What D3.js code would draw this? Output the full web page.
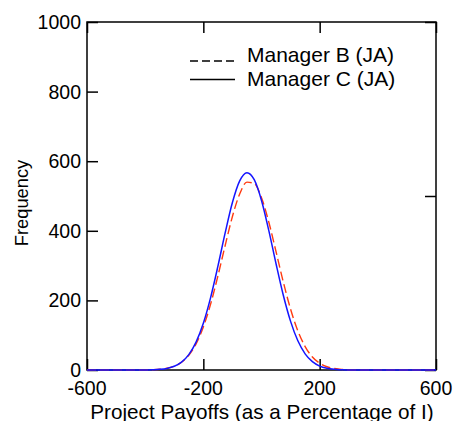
<!DOCTYPE html>
<html>
<head>
<meta charset="utf-8">
<script src="https://cdn.jsdelivr.net/npm/d3@7"></script>
<style>
  html, body { margin: 0; padding: 0; background: #fff; }
  svg { display: block; }
  text { font-family: "Liberation Sans", Arial, Helvetica, sans-serif; fill: #000; }
</style>
</head>
<body>
<svg id="chart" width="454" height="421"></svg>
<script>
// ---- data ----
const payoffs = [-600, -400, -375, -350, -325, -300, -275, -250, -225, -200, -175, -150, -125, -100, -75, -50, -25, 0, 25, 50, 75, 100, 125, 150, 175, 200, 225, 250, 275, 300, 600];
const managerB = [0, 0, 0.8, 2.1, 5.0, 10.9, 22.3, 42.4, 75.0, 123.6, 189.3, 269.8, 357.6, 441.0, 505.9, 539.9, 535.9, 495.0, 425.3, 340.0, 252.8, 174.9, 112.6, 67.4, 37.5, 19.4, 9.4, 4.2, 1.8, 0, 0];
const managerC = [0, 0, 0.7, 1.9, 4.6, 10.6, 22.6, 44.3, 80.2, 134.4, 208.1, 297.8, 393.8, 481.2, 543.3, 567.0, 546.8, 487.3, 401.3, 305.4, 214.8, 139.7, 83.9, 46.5, 23.9, 11.3, 5.0, 2.0, 0.8, 0, 0];
const seriesNames = ["Manager B (JA)", "Manager C (JA)"];
const xTicks = [-600, -200, 200, 600];
const yTicksLeft = [0, 200, 400, 600, 800, 1000];
const yTicksRight = [0, 500, 1000];
const xTitle = "Project Payoffs (as a Percentage of I)";
const yTitle = "Frequency";

// ---- layout ----
const svg = d3.select("#chart");
const L = 87, R = 436, T = 22, B = 370;
const x = d3.scaleLinear().domain([-600, 600]).range([L, R]);
const y = d3.scaleLinear().domain([0, 1000]).range([B, T]);
const tickLen = 11;

// frame
svg.append("rect").attr("x", L).attr("y", T).attr("width", R - L).attr("height", B - T)
  .attr("fill", "none").attr("stroke", "#000").attr("stroke-width", 1.5);

// axes with inward ticks
const axisStyle = g => {
  g.select(".domain").remove();
  g.selectAll(".tick line").attr("stroke", "#000").attr("stroke-width", 1.5);
  g.selectAll("text").remove();
};
svg.append("g").attr("transform", `translate(0,${B})`)
  .call(d3.axisBottom(x).tickValues(xTicks).tickSize(-tickLen)).call(axisStyle);
svg.append("g").attr("transform", `translate(0,${T})`)
  .call(d3.axisTop(x).tickValues(xTicks).tickSize(-tickLen)).call(axisStyle);
svg.append("g").attr("transform", `translate(${L},0)`)
  .call(d3.axisLeft(y).tickValues(yTicksLeft).tickSize(-tickLen)).call(axisStyle);
svg.append("g").attr("transform", `translate(${R},0)`)
  .call(d3.axisRight(y).tickValues(yTicksRight).tickSize(-tickLen)).call(axisStyle);

// tick labels
svg.append("g").selectAll("text").data(xTicks).join("text")
  .attr("x", d => x(d)).attr("y", 395)
  .attr("text-anchor", "middle").attr("font-size", "19.5px")
  .text(d => d);
svg.append("g").selectAll("text").data(yTicksLeft).join("text")
  .attr("x", 81).attr("y", d => y(d)).attr("dy", "0.36em")
  .attr("text-anchor", "end").attr("font-size", "19.5px")
  .text(d => d);

// titles
svg.append("text").attr("x", (L + R) / 2 + 0.5).attr("y", 419)
  .attr("text-anchor", "middle").attr("font-size", "20.7px").text(xTitle);
svg.append("text").attr("transform", "translate(28,203) rotate(-90)")
  .attr("text-anchor", "middle").attr("font-size", "18.3px").text(yTitle);

// curves
const line = d3.line().x((d, i) => x(payoffs[i])).y(d => y(d)).curve(d3.curveMonotoneX);
svg.append("path").datum(managerB).attr("d", line)
  .attr("fill", "none").attr("stroke", "#ff3a10").attr("stroke-width", 1.4)
  .attr("stroke-dasharray", "9,4");
svg.append("path").datum(managerC).attr("d", line)
  .attr("fill", "none").attr("stroke", "#1414ff").attr("stroke-width", 1.5);

// legend
const lg = svg.append("g");
lg.append("line").attr("x1", 190).attr("x2", 235).attr("y1", 61).attr("y2", 61)
  .attr("stroke", "#000").attr("stroke-width", 1.4).attr("stroke-dasharray", "8,4");
lg.append("line").attr("x1", 190).attr("x2", 235).attr("y1", 79.5).attr("y2", 79.5)
  .attr("stroke", "#000").attr("stroke-width", 1.4);
lg.selectAll("text").data(seriesNames).join("text")
  .attr("x", 247).attr("y", (d, i) => 62 + i * 24)
  .attr("font-size", "21px").text(d => d);
</script>
</body>
</html>
